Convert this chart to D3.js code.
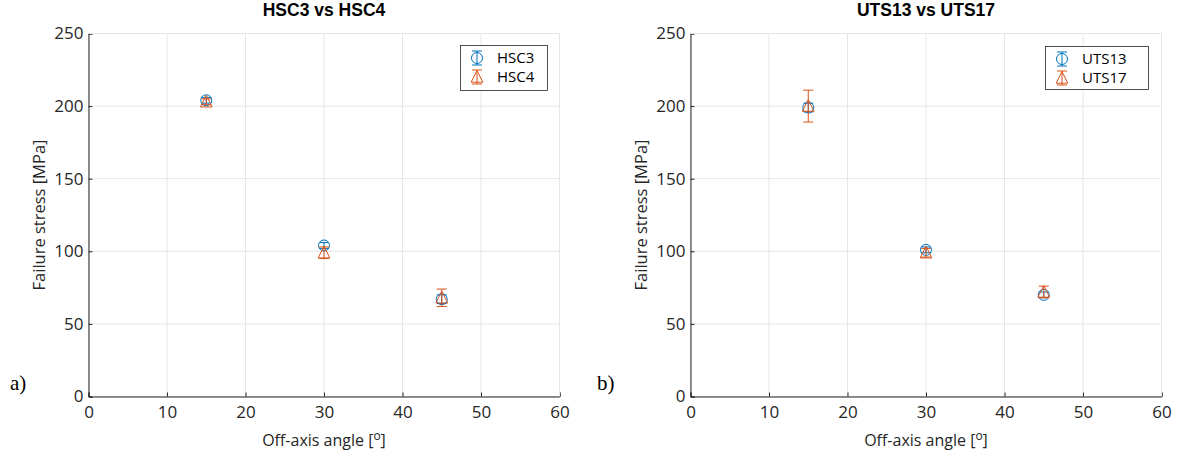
<!DOCTYPE html>
<html><head><meta charset="utf-8">
<script src="https://cdn.jsdelivr.net/npm/d3@7"></script>
<style>
body{margin:0;background:#fff;}
svg{display:block;font-family:"Liberation Sans","DejaVu Sans",sans-serif;}
</style></head>
<body><svg id="c" width="1180" height="458"></svg>
<script>
const angles = [15, 30, 45];
const xTicks = [0, 10, 20, 30, 40, 50, 60];
const yTicks = [0, 50, 100, 150, 200, 250];
const hsc3Vals = [204, 104, 67];
const hsc3Err  = [2, 2, 3];
const hsc4Vals = [203, 99, 68];
const hsc4Err  = [2, 4, 6];
const uts13Vals = [199, 101, 70];
const uts13Err  = [3, 2, 2];
const uts17Vals = [200, 99, 72];
const uts17Err  = [11, 3, 4];
const panelTitles = ["HSC3 vs HSC4", "UTS13 vs UTS17"];
const panelTags = ["a)", "b)"];
const seriesNames = [["HSC3", "HSC4"], ["UTS13", "UTS17"]];

const BLUE = "#0072BD", ORANGE = "#D95319";
const svg = d3.select("#c");

const panels = [
  {x0: 88.5, x1: 559.5, tagX: 10, series: [
     {name: seriesNames[0][0], vals: hsc3Vals, err: hsc3Err, color: BLUE, shape: "circle"},
     {name: seriesNames[0][1], vals: hsc4Vals, err: hsc4Err, color: ORANGE, shape: "triangle"}],
   legend: {x: 460, y: 45, w: 87, h: 45}},
  {x0: 690.5, x1: 1161.5, tagX: 597, series: [
     {name: seriesNames[1][0], vals: uts13Vals, err: uts13Err, color: BLUE, shape: "circle"},
     {name: seriesNames[1][1], vals: uts17Vals, err: uts17Err, color: ORANGE, shape: "triangle"}],
   legend: {x: 1045, y: 46, w: 103, h: 43}}
];
const yTop = 33.5, yBot = 396.5;
const FONT = "'Open Sans','DejaVu Sans',sans-serif";

function marker(g, shape, cx, cy, color){
  if(shape === "circle"){
    g.append("circle").attr("cx", cx).attr("cy", cy).attr("r", 5.5)
      .attr("fill", "none").attr("stroke", color).attr("stroke-width", 1);
  } else {
    const s = 6.5;
    g.append("path").attr("d", `M${cx},${cy - s}L${cx + s*0.9},${cy + s*0.8}L${cx - s*0.9},${cy + s*0.8}Z`)
      .attr("fill", "none").attr("stroke", color).attr("stroke-width", 1);
  }
}
function errbar(g, cx, y1, y2, color){
  const cw = 5;
  g.append("line").attr("x1", cx).attr("x2", cx).attr("y1", y1).attr("y2", y2).attr("stroke", color).attr("stroke-width", 1);
  g.append("line").attr("x1", cx - cw).attr("x2", cx + cw).attr("y1", y1).attr("y2", y1).attr("stroke", color).attr("stroke-width", 1);
  g.append("line").attr("x1", cx - cw).attr("x2", cx + cw).attr("y1", y2).attr("y2", y2).attr("stroke", color).attr("stroke-width", 1);
}

panels.forEach((p, i) => {
  const x = d3.scaleLinear().domain([0, 60]).range([p.x0, p.x1]);
  const y = d3.scaleLinear().domain([0, 250]).range([yBot, yTop]);
  const g = svg.append("g");

  g.append("g").selectAll("line").data(xTicks).join("line")
    .attr("x1", d => x(d)).attr("x2", d => x(d)).attr("y1", yTop).attr("y2", yBot)
    .attr("stroke", "#e6e6e6").attr("stroke-width", 1);
  g.append("g").selectAll("line").data(yTicks).join("line")
    .attr("x1", p.x0).attr("x2", p.x1).attr("y1", d => y(d)).attr("y2", d => y(d))
    .attr("stroke", "#e6e6e6").attr("stroke-width", 1);

  const xa = g.append("g").attr("transform", `translate(0,${yBot})`)
    .call(d3.axisBottom(x).tickValues(xTicks).tickSize(-4).tickPadding(9).tickFormat(d3.format("d")));
  const ya = g.append("g").attr("transform", `translate(${p.x0},0)`)
    .call(d3.axisLeft(y).tickValues(yTicks).tickSize(-4).tickPadding(5).tickFormat(d3.format("d")));
  [xa, ya].forEach(a => {
    a.select(".domain").attr("stroke", "#262626").attr("stroke-width", 1);
    a.selectAll(".tick line").attr("stroke", "#262626");
    a.selectAll("text").attr("fill", "#262626").style("font-size", "17px").style("font-family", FONT);
  });
  g.append("line").attr("x1", p.x0).attr("x2", p.x1).attr("y1", yTop).attr("y2", yTop).attr("stroke", "#e6e6e6");
  g.append("line").attr("x1", p.x1).attr("x2", p.x1).attr("y1", yTop).attr("y2", yBot).attr("stroke", "#e6e6e6");

  p.series.forEach(s => {
    const sg = g.append("g");
    angles.forEach((a, k) => {
      errbar(sg, x(a), y(s.vals[k] + s.err[k]), y(s.vals[k] - s.err[k]), s.color);
      marker(sg, s.shape, x(a), y(s.vals[k]), s.color);
    });
  });

  g.append("text").attr("x", (p.x0 + p.x1) / 2).attr("y", 16).attr("text-anchor", "middle")
    .attr("font-weight", "bold").attr("font-size", "17.5px").attr("fill", "#000")
    .style("font-family", "'Liberation Sans',Arial,sans-serif").text(panelTitles[i]);

  const xl = g.append("text").attr("x", (p.x0 + p.x1) / 2).attr("y", 446).attr("text-anchor", "middle")
    .attr("font-size", "16px").attr("fill", "#262626").style("font-family", FONT);
  xl.append("tspan").text("Off-axis angle [");
  xl.append("tspan").attr("dy", -6).attr("font-size", "12px").text("o");
  xl.append("tspan").attr("dy", 6).text("]");
  g.append("text").attr("transform", `translate(${p.x0 - 44},${(yTop + yBot) / 2}) rotate(-90)`)
    .attr("text-anchor", "middle").attr("font-size", "16.5px").attr("fill", "#262626")
    .style("font-family", FONT).text("Failure stress [MPa]");

  g.append("text").attr("x", p.tagX).attr("y", 390).attr("font-size", "21px").attr("fill", "#000")
    .style("font-family", "'Liberation Serif','Times New Roman',serif").text(panelTags[i]);

  const L = p.legend;
  const lg = g.append("g");
  lg.append("rect").attr("x", L.x + 0.5).attr("y", L.y + 0.5).attr("width", L.w).attr("height", L.h)
    .attr("fill", "#fff").attr("stroke", "#262626").attr("stroke-width", 0.8);
  p.series.forEach((s, k) => {
    const cy = L.y + 13 + k * 19;
    const mx = L.x + 17;
    errbar(lg, mx, cy - 7, cy + 7, s.color);
    marker(lg, s.shape, mx, cy, s.color);
    lg.append("text").attr("x", L.x + 37).attr("y", cy + 5).attr("font-size", "15px").attr("fill", "#000")
      .style("font-family", FONT).text(s.name);
  });
});
</script></body></html>
